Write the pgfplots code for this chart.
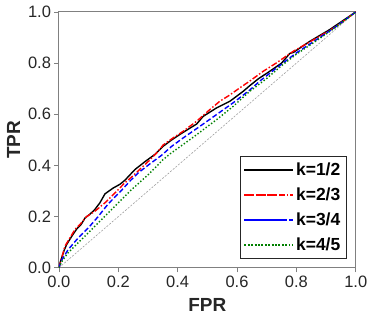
\documentclass[border=0pt]{standalone}
\usepackage{fontspec}
\setmainfont{Liberation Sans}
\usepackage{pgfplots}
\pgfplotsset{compat=1.18}
\definecolor{axgray}{gray}{0.5}
\definecolor{mgreen}{rgb}{0,0.5,0}
\definecolor{mblue}{rgb}{0,0,1}
\definecolor{mred}{rgb}{1,0,0}
\begin{document}
\begin{tikzpicture}
\begin{axis}[
  scale only axis,
  width=297pt, height=256pt,
  xmin=0, xmax=1, ymin=0, ymax=1,
  xtick={0,0.2,0.4,0.6,0.8,1.0},
  ytick={0,0.2,0.4,0.6,0.8,1.0},
  xticklabels={0.0,0.2,0.4,0.6,0.8,1.0},
  yticklabels={0.0,0.2,0.4,0.6,0.8,1.0},
  /pgf/number format/assume math mode=true,
  tick label style={font=\fontsize{16.5}{18}\selectfont, color=black!85},
  tick align=outside,
  tickpos=left,
  major tick length=4.5pt,
  tick style={axgray, line width=0.8pt},
  axis line style={axgray, line width=1pt},
  xlabel={FPR}, ylabel={TPR},
  label style={font=\fontsize{19}{21}\selectfont\bfseries, color=black!85},
  xlabel style={yshift=-4pt},
  ylabel style={yshift=1pt},
  legend style={at={(0.969,0.036)}, anchor=south east, draw=black!85,
    font=\fontsize{17.5}{19}\selectfont\bfseries,
    inner xsep=4pt, inner ysep=5pt, row sep=8pt,
    nodes={text height=12.5pt, text depth=0.5pt}},
  legend cell align=left,
  legend image code/.code={\draw[line width=1.4pt,#1] (0pt,0pt) -- (37pt,0pt); \path (-4pt,0pt) -- (45pt,0pt);},
  every axis plot/.append style={line width=1.4pt},
]
\addplot[gray!75, line width=0.6pt, dash pattern=on 2pt off 1.5pt, forget plot] coordinates {(0,0) (1,1)};
\addplot[draw=black] coordinates {
(0,0) (0.005,0.025) (0.011,0.045) (0.018,0.07) (0.026,0.091) (0.043,0.123) (0.06,0.152)
(0.075,0.17) (0.088,0.195) (0.105,0.21) (0.121,0.228) (0.138,0.254) (0.155,0.289)
(0.183,0.312) (0.205,0.326) (0.222,0.342) (0.256,0.384) (0.29,0.415) (0.323,0.443)
(0.351,0.475) (0.38,0.5) (0.407,0.521) (0.44,0.545) (0.464,0.562) (0.486,0.592)
(0.531,0.625) (0.576,0.651) (0.621,0.69) (0.643,0.712) (0.671,0.738) (0.71,0.768)
(0.75,0.8) (0.778,0.838) (0.79,0.842) (0.845,0.885) (0.912,0.931) (1,1)};
\addlegendentry{k=1/2}
\addplot[draw=mred, dash pattern=on 6pt off 2pt on 1.5pt off 2pt] coordinates {
(0,0) (0.009,0.038) (0.02,0.084) (0.037,0.117) (0.054,0.15) (0.075,0.175) (0.093,0.2)
(0.121,0.221) (0.155,0.254) (0.189,0.293) (0.222,0.332) (0.25,0.36) (0.278,0.391)
(0.305,0.42) (0.334,0.455) (0.351,0.48) (0.385,0.508) (0.419,0.534) (0.464,0.573)
(0.508,0.618) (0.542,0.651) (0.575,0.675) (0.609,0.703) (0.643,0.73) (0.688,0.768)
(0.733,0.801) (0.789,0.846) (0.868,0.898) (0.935,0.944) (1,1)};
\addlegendentry{k=2/3}
\addplot[draw=mblue, dash pattern=on 5pt off 2.5pt] coordinates {
(0,0) (0.009,0.03) (0.031,0.071) (0.065,0.117) (0.099,0.156) (0.132,0.2) (0.166,0.25)
(0.211,0.303) (0.24,0.34) (0.267,0.371) (0.305,0.405) (0.346,0.44) (0.38,0.475)
(0.419,0.508) (0.475,0.553) (0.531,0.599) (0.587,0.645) (0.643,0.695) (0.677,0.73)
(0.733,0.781) (0.8,0.84) (0.868,0.892) (0.935,0.944) (1,1)};
\addlegendentry{k=3/4}
\addplot[draw=mgreen, dash pattern=on 1.4pt off 2pt] coordinates {
(0,0) (0.009,0.023) (0.031,0.059) (0.065,0.098) (0.099,0.137) (0.144,0.189) (0.189,0.241)
(0.245,0.306) (0.301,0.364) (0.351,0.423) (0.374,0.445) (0.41,0.475) (0.452,0.51)
(0.531,0.579) (0.587,0.631) (0.643,0.69) (0.7,0.74) (0.75,0.79) (0.8,0.835)
(0.868,0.888) (0.935,0.942) (1,1)};
\addlegendentry{k=4/5}
\end{axis}
\path (current axis.south west) ++(-59pt,-50.7pt) coordinate (bl);
\path (current axis.north east) ++(18.3pt,12pt) coordinate (tr);
\path (bl) rectangle (tr);
\end{tikzpicture}
\end{document}
